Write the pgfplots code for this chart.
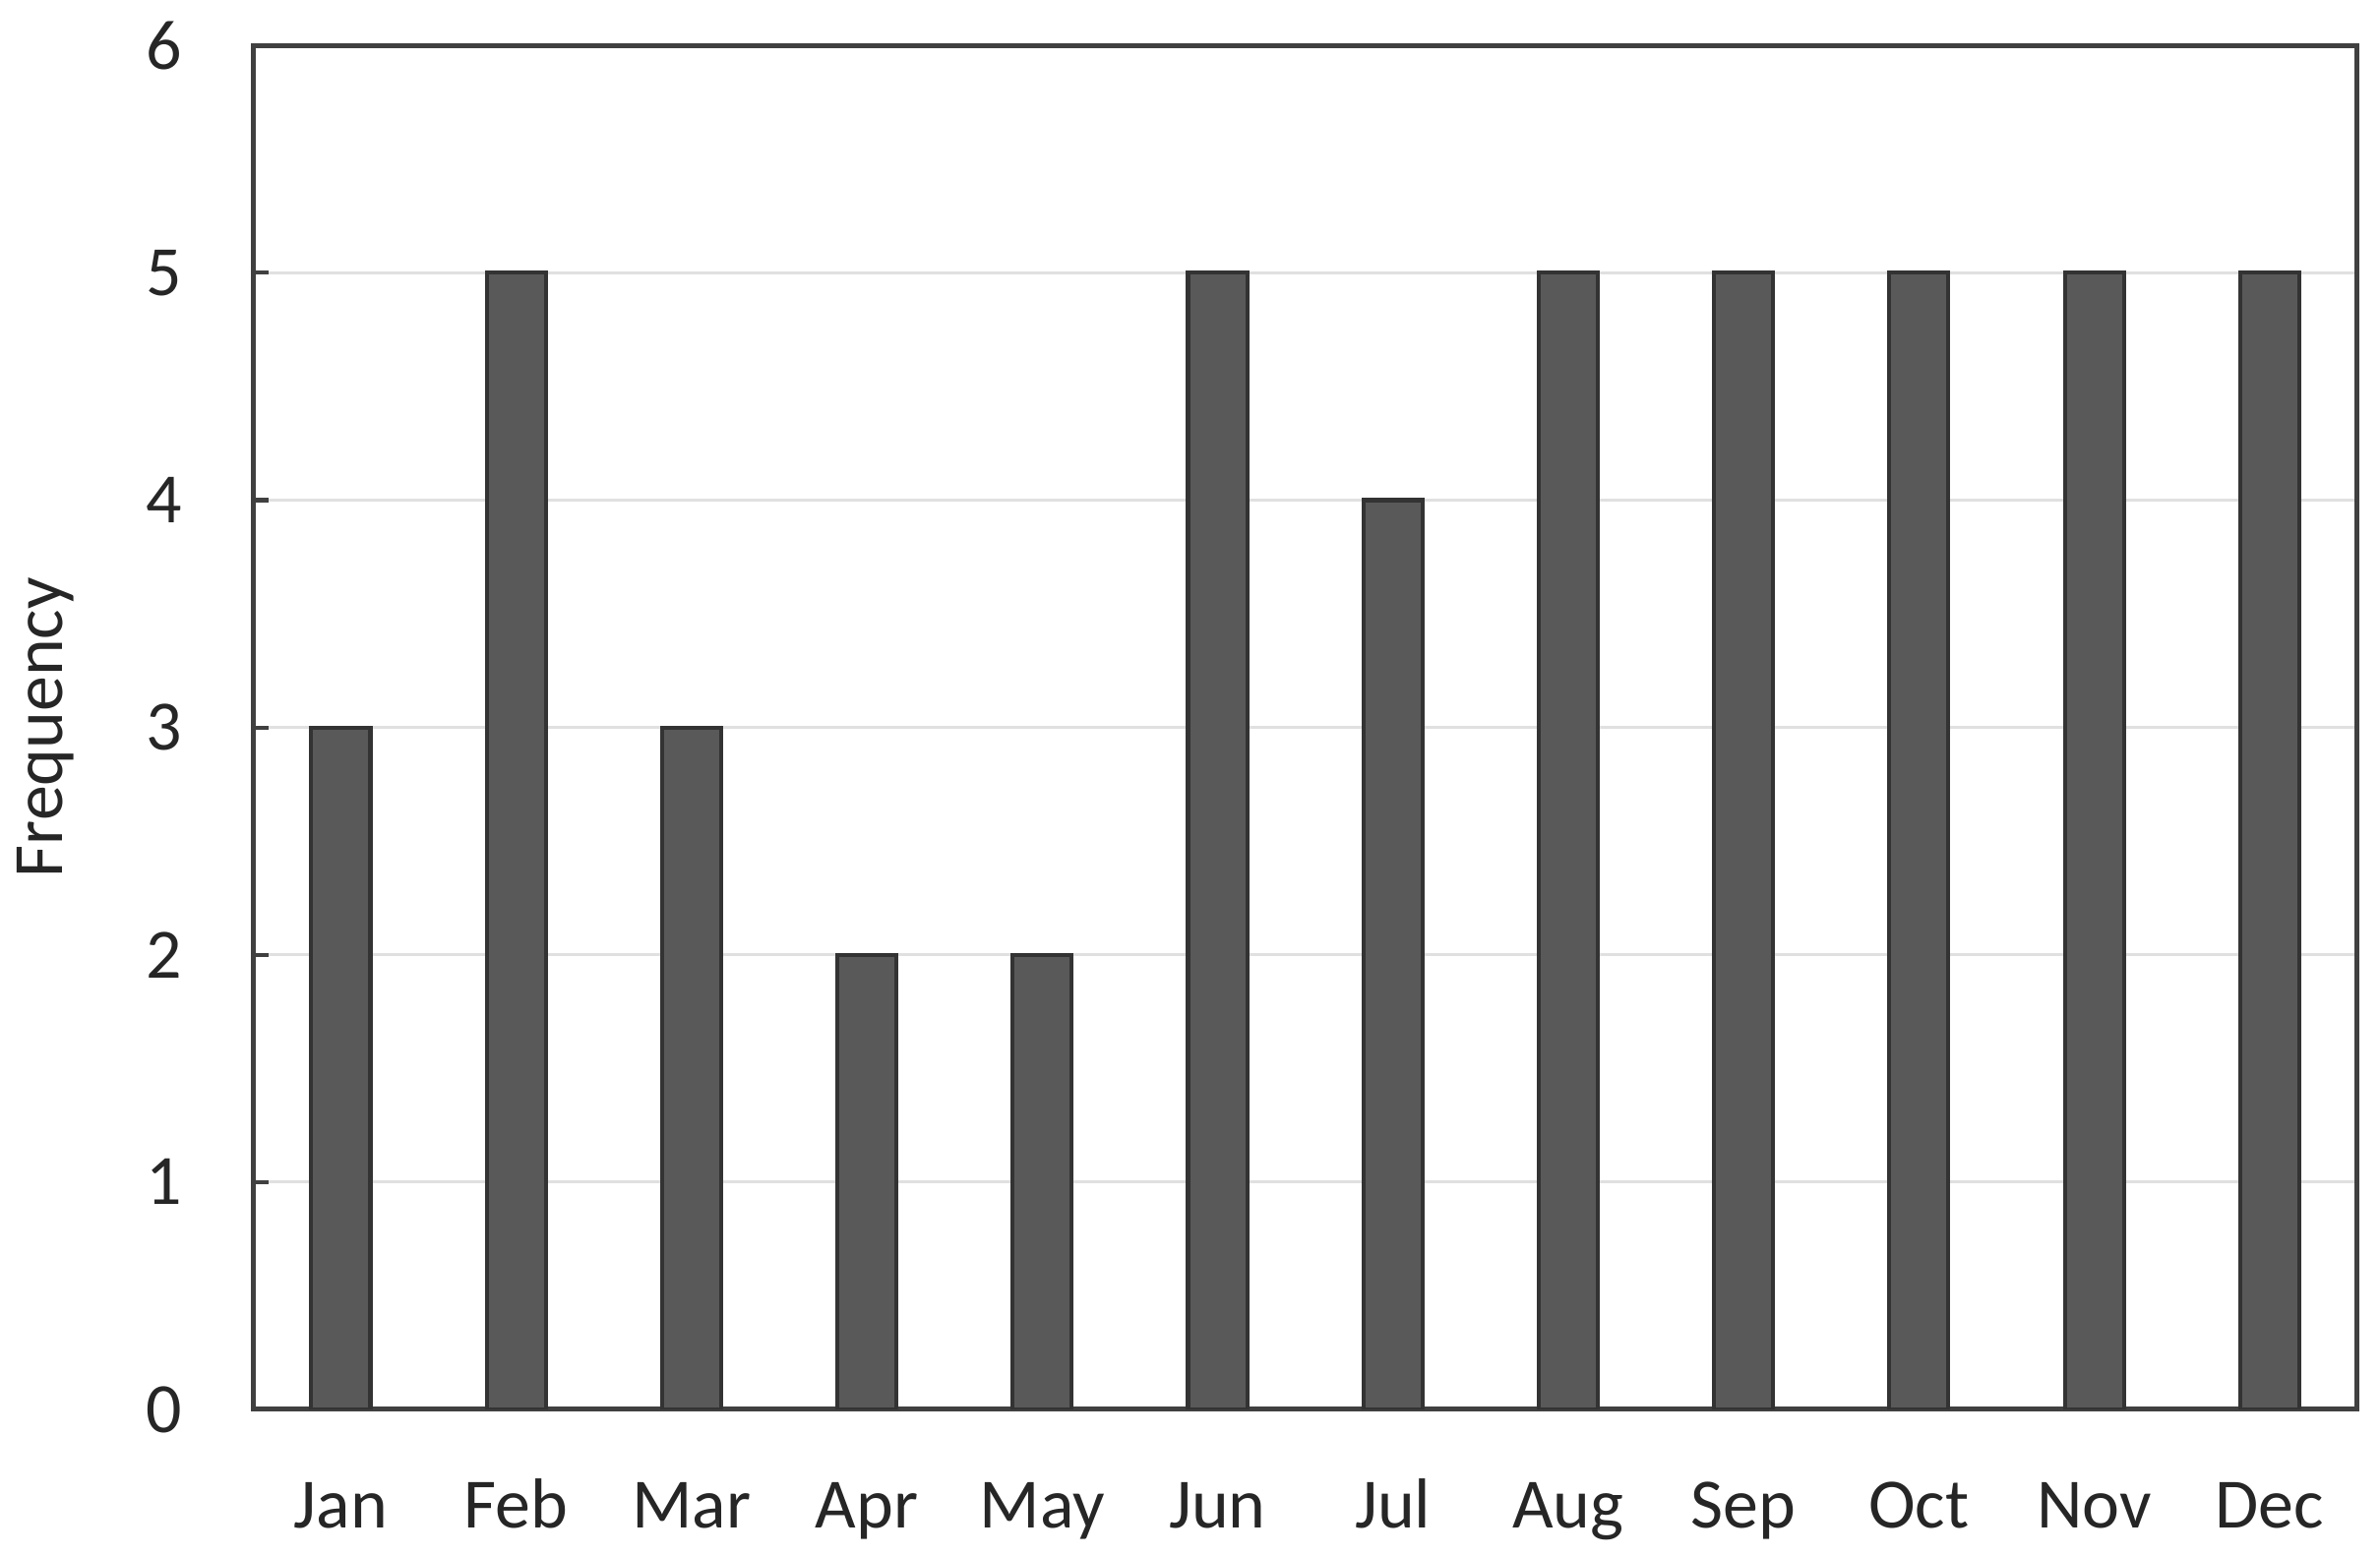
\documentclass[border=0pt]{standalone}
\usepackage{pgfplots}
\pgfplotsset{compat=1.18}
\usepackage{fontspec}
\setmainfont{Carlito}
\definecolor{barfill}{HTML}{595959}
\definecolor{baredge}{HTML}{333333}
\definecolor{axiscol}{HTML}{404040}
\definecolor{gridcol}{HTML}{E0E0E0}
\begin{document}
\begin{tikzpicture}
\begin{axis}[
  scale only axis,
  width=416.4pt, height=270pt,
  xmin=-0.5, xmax=11.5,
  ymin=0, ymax=6,
  ytick={0,1,2,3,4,5,6},
  xtick={0,...,11},
  xticklabels={Jan,Feb,Mar,Apr,May,Jun,Jul,Aug,Sep,Oct,Nov,Dec},
  ymajorgrids,
  grid style={gridcol, line width=0.6pt},
  axis line style={axiscol, line width=1.0pt},
  x tick style={draw=none},
  ytick pos=left,
  y tick style={axiscol, line width=0.8pt},
  tick align=inside,
  major tick length=3pt,
  tick label style={font=\fontsize{14}{16}\selectfont, text=black!85},
  /pgf/number format/assume math mode=true,
  xticklabel style={anchor=base, yshift=-23.4pt, inner sep=2pt},
  yticklabel style={xshift=-10.5pt},
  ylabel={Frequency},
  ylabel style={font=\fontsize{14}{16}\selectfont, text=black!85,
    at={([xshift=-32pt]rel axis cs:0,0.5)}, anchor=south},
]
\addplot[ybar, bar width=11.7pt, fill=barfill, draw=baredge, line width=0.8pt]
coordinates {(0,3) (1,5) (2,3) (3,2) (4,2) (5,5) (6,4) (7,5) (8,5) (9,5) (10,5) (11,5)};
\end{axis}
\path ([xshift=4.5pt,yshift=-29pt]current axis.south east) -- ([xshift=4.5pt,yshift=9pt]current axis.north east);
\end{tikzpicture}
\end{document}
